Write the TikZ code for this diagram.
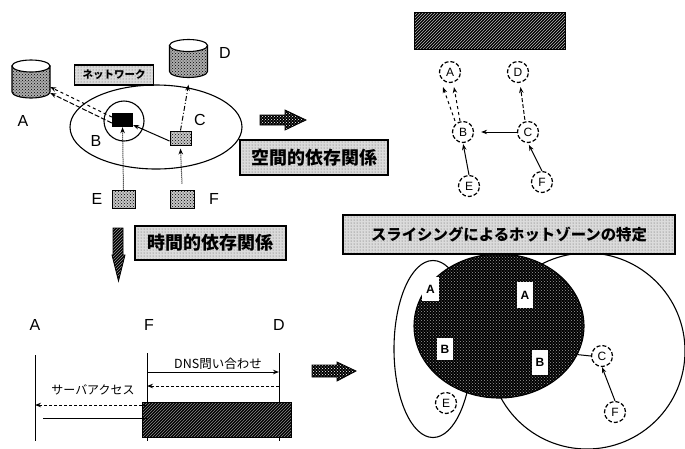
\documentclass[tikz,border=0pt]{standalone}
\usepackage{fontspec}
\setmainfont{Liberation Sans}
\newfontfamily\cjk{Noto Sans CJK JP}
\usetikzlibrary{shapes.geometric,arrows.meta,patterns,calc}
% Text inside the dark boxes and the cylinders is illegible in the reference, so it is not reproduced.
\tikzset{
  ln/.style={line width=1pt,black},
  tip/.style={-{Stealth[length=6pt,width=4.5pt]}},
  dotbox/.style={draw,line width=1.2pt,inner sep=0pt,preaction={fill=gray!28},pattern=dots,pattern color=gray!70!black},
  lbl/.style={font=\fontsize{16}{16}\selectfont,inner sep=0pt},
  mid/.style={draw,line width=1pt,inner sep=0pt,preaction={fill=gray!45},pattern=crosshatch dots,pattern color=black},
  hatch/.style={draw,line width=0.8pt,inner sep=0pt,preaction={fill=black},pattern=north east lines},
  gnode/.style={circle,draw,line width=1.2pt,dash pattern=on 4pt off 2pt,minimum size=21pt,inner sep=0pt,font=\fontsize{12}{12}\selectfont},
  wbox/.style={fill=white,inner sep=0pt,font=\fontsize{12}{12}\selectfont\bfseries},
  ring/.style={draw,ellipse,line width=1.1pt,inner sep=0pt},
  block/.style={draw,line width=0.8pt,preaction={fill=black},pattern=crosshatch dots,pattern color=white},
}
\newcommand{\drum}[4]{% name, x, y (centre), half-width
  \node[inner sep=0pt,minimum width=2*#4 pt,minimum height=38pt] (#1) at (#2,#3) {};
  \path[draw,line width=1.1pt,preaction={fill=gray!65},pattern=crosshatch dots,pattern color=black]
    (#2-#4,#3-13) -- (#2-#4,#3+13) arc[start angle=180,end angle=0,x radius=#4,y radius=6] -- (#2+#4,#3-13) -- cycle;
  \path[draw,line width=1.1pt,fill=white] (#2,#3-13) ellipse[x radius=#4,y radius=6];
}
\begin{document}
\begin{tikzpicture}[x=1pt,y=-1pt]
\useasboundingbox (0,0) rectangle (685,448);
% ---- upper left: network
\node[ring,minimum width=172pt,minimum height=84pt] (net) at (156,127) {};
\node[circle,draw,line width=1.1pt,minimum size=40pt,inner sep=0pt] (bring) at (124,121) {};
\node[fill=black,inner sep=0pt,minimum width=21pt,minimum height=14pt] (bk) at (122.5,120) {};
\node[mid,minimum width=21pt,minimum height=14pt] (cbox) at (180.5,138) {};
\node[mid,minimum width=23pt,minimum height=18pt] (ebox) at (123.5,199) {};
\node[mid,minimum width=24pt,minimum height=18pt] (fbox) at (182,199) {};
\drum{cylA}{31}{79}{19}
\drum{cylD}{188.5}{58.5}{19}
\node[lbl] (la) at (23,121) {A};
\node[lbl] (lb) at (96,141) {B};
\node[lbl] (lc) at (200,120) {C};
\node[lbl] (ld) at (225,53) {D};
\node[lbl] (le) at (97,199) {E};
\node[lbl] (lf) at (214,199) {F};
\node[dotbox,minimum width=79pt,minimum height=20pt,font=\cjk\fontsize{10.5}{10.5}\selectfont\bfseries] (nw) at (114,75) {ネットワーク};
\draw[ln,tip,dashed] ([yshift=3pt]bk.west) -- ([yshift=-8pt]cylA.east);
\draw[ln,tip,dash pattern=on 5pt off 2pt] ([yshift=-3pt]bk.west) -- ([yshift=-14pt]cylA.east);
\draw[ln,tip] ([yshift=-3pt]cbox.west) -- ([yshift=-5pt]bk.east);
\draw[ln,tip,dash pattern=on 5pt off 2pt on 1pt off 2pt] (cbox.north) -- ([yshift=-7pt]cylD.south);
\draw[ln,tip,densely dotted] (ebox.north) -- (bk.south);
\draw[ln,tip,densely dotted] ([yshift=6pt]fbox.north) -- ([yshift=-3pt]cbox.south);
\path[block] (260,115) -- (285,115) -- (285,110) -- (306,120) -- (285,130) -- (285,125) -- (260,125) -- cycle;
\node[dotbox,minimum width=148pt,minimum height=35pt,font=\cjk\fontsize{18}{18}\selectfont\bfseries] (spat) at (314,157.5) {空間的依存関係};
% ---- upper right: dependency graph
\node[hatch,minimum width=151pt,minimum height=37pt,pattern color=gray!55] (graphttl) at (489.5,30.5) {};
\node[gnode] (A) at (450,72) {A};
\node[gnode] (D) at (518,72) {D};
\node[gnode] (B) at (463,132) {B};
\node[gnode] (C) at (528,132) {C};
\node[gnode] (E) at (469,186) {E};
\node[gnode] (F) at (542,182) {F};
\draw[ln,tip,dashed] ([xshift=-8pt]B.north) -- ([xshift=-7pt,yshift=-4pt]A.south);
\draw[ln,tip,dashed] ([xshift=-3pt]B.north) -- ([xshift=4pt,yshift=-4pt]A.south);
\draw[ln,tip,shorten >=7pt] (C.west) -- (B.east);
\draw[ln,tip,dash pattern=on 4pt off 2pt,shorten <=1pt,shorten >=4pt] ([xshift=-3pt]C.north) -- ([xshift=2pt]D.south);
\draw[ln,tip,shorten >=1pt] (E.north) -- (B.south);
\draw[ln,tip,shorten >=2pt] (F.north) -- (C.south);
% ---- lower left: time chart
\path[draw,line width=0.8pt,preaction={fill=black},pattern=north east lines,pattern color=gray!80] (113,228) -- (123,228) -- (123,255) -- (125,255) -- (118.5,281) -- (112,255) -- (113,255) -- cycle;
\node[dotbox,minimum width=151pt,minimum height=34pt,font=\cjk\fontsize{18}{18}\selectfont\bfseries] (temp) at (210.5,243) {時間的依存関係};
\node[lbl] (tA) at (35,325) {A};
\node[lbl] (tF) at (149,325) {F};
\node[lbl] (tD) at (279,325) {D};
\coordinate (a0) at (35,355); \coordinate (a1) at (35,441);
\coordinate (f0) at (147,353); \coordinate (f1) at (147,441);
\coordinate (d0) at (279,353); \coordinate (d1) at (279,441);
\draw[ln] (a0) -- (a1); \draw[ln] (f0) -- (f1); \draw[ln] (d0) -- (d1);
\coordinate (r1f) at (147,372); \coordinate (r1d) at (279,372);
\coordinate (r2f) at (147,386); \coordinate (r2d) at (279,386);
\coordinate (r3f) at (147,405); \coordinate (r3a) at (35,405);
\coordinate (r4a) at (43,418); \coordinate (r4f) at (147,418);
\draw[ln,tip] (r1f) -- (r1d);
\draw[ln,tip,densely dashed] (r2d) -- (r2f);
\node[hatch,minimum width=149pt,minimum height=35pt,pattern color=gray!90] (wait) at (216.5,419.5) {};
\draw[ln,tip,densely dashed] (r3f) -- (r3a);
\draw[ln] (r4a) -- (r4f);
\node[inner sep=0pt,font=\cjk\fontsize{12.5}{12.5}\selectfont] (dns) at (218,364) {DNS問い合わせ};
\node[inner sep=0pt,font=\cjk\fontsize{12}{12}\selectfont] (srv) at (93,390) {サーバアクセス};
\path[block] (312,365) -- (337,365) -- (337,362) -- (356,371) -- (337,381) -- (337,377) -- (312,377) -- cycle;
% ---- lower right: slicing
\node[ring,minimum width=78pt,minimum height=177pt] (eleft) at (433,349) {};
\node[ring,minimum width=196pt,minimum height=196pt] (eright) at (587,351) {};
\node[ring,minimum width=170pt,minimum height=144pt,preaction={fill=black},pattern=crosshatch dots,pattern color=gray!75] (hot) at (499,326) {};
\node[dotbox,minimum width=332pt,minimum height=39pt,font=\cjk\fontsize{15.4}{15.4}\selectfont\bfseries] (slice) at (509,234.5) {スライシングによるホットゾーンの特定};
\node[wbox,minimum width=17pt,minimum height=24pt] (hA1) at (430.5,289) {A};
\node[wbox,minimum width=16pt,minimum height=26pt] (hA2) at (525,295) {A};
\node[wbox,minimum width=16pt,minimum height=22pt] (hB1) at (445,349) {B};
\node[wbox,minimum width=16pt,minimum height=25pt] (hB2) at (540,362.5) {B};
\node[gnode] (sC) at (602,356) {C};
\node[gnode] (sF) at (615,412) {F};
\node[gnode] (sE) at (446,403) {E};
\draw[ln] (hot.-20) -- (sC.west);
\draw[ln,tip] (sF.north) -- (sC.south);
\end{tikzpicture}
\end{document}
